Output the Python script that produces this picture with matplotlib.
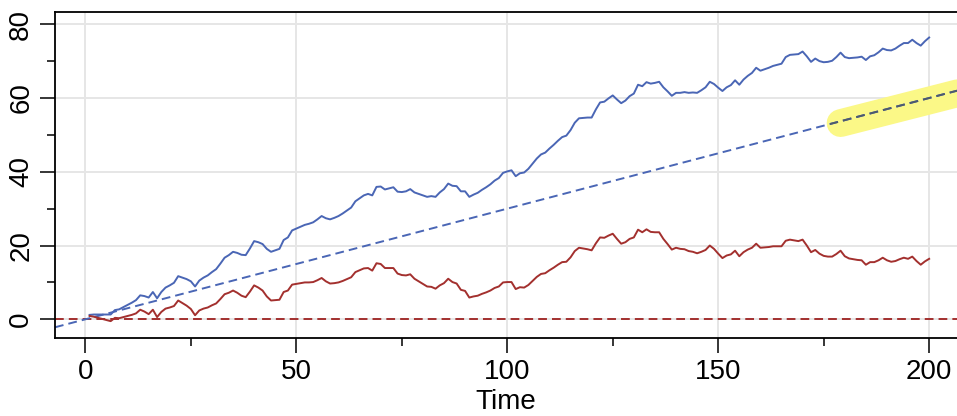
import matplotlib
matplotlib.use("Agg")
import matplotlib.pyplot as plt
from matplotlib.ticker import MultipleLocator
from matplotlib.patches import Rectangle

# ---------------- data ----------------
time = list(range(1, 201))

walk_no_drift = [
    0.9, 0.7, 0.4, 0.1, -0.2, -0.5, 0.4, 0.3, 0.6, 0.9,
    1.2, 1.6, 2.6, 2.1, 1.4, 2.6, 0.6, 2.0, 2.9, 3.2,
    3.6, 5.1, 4.4, 3.7, 2.8, 1.1, 2.4, 2.9, 3.2, 3.8,
    4.3, 5.5, 6.8, 7.2, 7.8, 7.2, 6.4, 6.0, 7.5, 9.2,
    8.6, 7.8, 6.2, 5.1, 5.2, 5.3, 7.4, 7.8, 9.4, 9.6,
    9.8, 10.0, 10.0, 10.1, 10.6, 11.2, 10.3, 9.7, 9.8, 10.0,
    10.4, 10.9, 11.4, 12.8, 13.3, 13.8, 13.9, 13.2, 15.2, 15.0,
    13.9, 13.9, 13.9, 12.4, 12.0, 11.9, 12.2, 11.0, 10.3, 9.6,
    8.9, 8.8, 8.3, 9.2, 9.8, 11.0, 10.1, 9.7, 8.0, 7.7,
    5.9, 6.2, 6.4, 6.9, 7.3, 7.8, 8.5, 8.9, 10.0, 10.1,
    10.1, 8.2, 8.7, 8.6, 9.3, 10.4, 11.5, 12.3, 12.5, 13.3,
    14.0, 14.8, 15.5, 15.6, 16.8, 18.5, 19.4, 19.2, 19.0, 18.7,
    20.6, 22.2, 22.1, 22.7, 23.2, 21.8, 20.5, 20.9, 21.8, 22.2,
    24.3, 23.6, 24.4, 23.7, 23.6, 23.6, 21.8, 20.4, 18.9, 19.4,
    19.1, 19.0, 18.5, 18.3, 17.9, 18.3, 18.8, 20.0, 19.1, 17.8,
    16.6, 17.3, 17.6, 18.6, 17.1, 18.2, 18.9, 19.4, 20.5, 19.4,
    19.5, 19.6, 19.8, 19.8, 19.8, 21.3, 21.6, 21.4, 21.2, 21.6,
    20.0, 18.2, 18.8, 17.8, 17.2, 17.0, 17.0, 17.7, 18.6, 17.1,
    16.5, 16.3, 16.1, 16.0, 14.8, 15.5, 15.5, 16.0, 16.7, 16.0,
    15.6, 15.8, 16.3, 16.7, 16.4, 17.0, 15.8, 14.8, 15.7, 16.4,
]

walk_with_drift = [
    1.2, 1.3, 1.3, 1.3, 1.3, 1.3, 2.5, 2.7, 3.3, 3.9,
    4.5, 5.2, 6.5, 6.3, 5.9, 7.4, 5.7, 7.4, 8.6, 9.2,
    9.9, 11.7, 11.3, 10.9, 10.3, 8.9, 10.5, 11.3, 11.9, 12.8,
    13.6, 15.1, 16.7, 17.4, 18.3, 18.0, 17.5, 17.4, 19.2, 21.2,
    20.9, 20.4, 19.1, 18.3, 18.7, 19.1, 21.5, 22.2, 24.1, 24.6,
    25.1, 25.6, 25.9, 26.3, 27.1, 28.0, 27.4, 27.1, 27.5, 28.0,
    28.7, 29.5, 30.3, 32.0, 32.8, 33.6, 34.0, 33.6, 35.9, 36.0,
    35.2, 35.5, 35.8, 34.6, 34.5, 34.7, 35.3, 34.4, 34.0, 33.6,
    33.2, 33.4, 33.2, 34.4, 35.3, 36.8, 36.2, 36.1, 34.7, 34.7,
    33.2, 33.8, 34.3, 35.1, 35.8, 36.6, 37.6, 38.3, 39.7, 40.1,
    40.4, 38.8, 39.6, 39.8, 40.8, 42.2, 43.6, 44.7, 45.2, 46.3,
    47.3, 48.4, 49.4, 49.8, 51.3, 53.3, 54.5, 54.6, 54.7, 54.7,
    56.9, 58.8, 59.0, 59.9, 60.7, 59.6, 58.6, 59.3, 60.5, 61.2,
    63.6, 63.2, 64.3, 63.9, 64.1, 64.4, 62.9, 61.8, 60.6, 61.4,
    61.4, 61.6, 61.4, 61.5, 61.4, 62.1, 62.9, 64.4, 63.8, 62.8,
    61.9, 62.9, 63.5, 64.8, 63.6, 65.0, 66.0, 66.8, 68.2, 67.4,
    67.8, 68.2, 68.7, 69.0, 69.3, 71.1, 71.7, 71.8, 71.9, 72.6,
    71.3, 69.8, 70.7, 70.0, 69.7, 69.8, 70.1, 71.1, 72.3, 71.1,
    70.8, 70.9, 71.0, 71.2, 70.3, 71.3, 71.6, 72.4, 73.4, 73.0,
    72.9, 73.4, 74.2, 74.9, 74.9, 75.8, 74.9, 74.2, 75.4, 76.4,
]

drift = 0.3
x_ticks = [0, 50, 100, 150, 200]
y_ticks = [0, 20, 40, 60, 80]
x_label = "Time"

# ---------------- style ----------------
plt.rcParams["font.family"] = ["Liberation Sans Narrow", "Liberation Sans", "DejaVu Sans"]
BLUE = "#4a66b5"
RED = "#a3302e"
GRID = "#e6e6e6"
HIGHLIGHT = "#fbf887"

fig = plt.figure(figsize=(9.57, 4.16), dpi=100)
ax = fig.add_axes([55 / 957, (416 - 338.3) / 416, 902 / 957, (338.3 - 11.7) / 416])

ax.set_xlim(-7.2, 206.6)
ax.set_ylim(-5.15, 83.4)

ax.set_xticks(x_ticks)
ax.set_yticks(y_ticks)
ax.xaxis.set_minor_locator(MultipleLocator(25))
ax.yaxis.set_minor_locator(MultipleLocator(10))
ax.grid(True, which="major", color=GRID, linewidth=1.4, zorder=0)
ax.set_axisbelow(True)

ax.tick_params(axis="both", which="major", length=11, width=1.1, labelsize=20,
               direction="out", colors="black", pad=4)
ax.tick_params(axis="both", which="minor", length=6, width=1.1, direction="out")
for lab in ax.get_yticklabels():
    lab.set_rotation(90)
    lab.set_va("center")
ax.set_xlabel(x_label, fontsize=20, labelpad=3)

for side in ("left", "top", "bottom"):
    ax.spines[side].set_linewidth(1.3)
ax.spines["right"].set_visible(False)

# highlight stroke (drawn under the trend line)
hl_t = (179.0, 214.0)
ax.plot(hl_t, (drift * hl_t[0] - 0.5, drift * hl_t[1] - 0.8), color=HIGHLIGHT,
        linewidth=20, solid_capstyle="round", zorder=1)

# reference lines
dash = (0, (4.5, 2.6))
ax.axhline(0, color=RED, linewidth=1.4, linestyle=dash, zorder=2)
ax.axline((0, 0), slope=drift, color=BLUE, linewidth=1.4, linestyle=dash, zorder=2)
dark = ax.axline((0, 0), slope=drift, color="#4e5a6c", linewidth=1.4, linestyle=dash, zorder=2.1)
dark.set_clip_path(Rectangle((176.5, 30), 40, 50, transform=ax.transData))

# series
ax.plot(time, walk_with_drift, color=BLUE, linewidth=1.4, zorder=3)
ax.plot(time, walk_no_drift, color=RED, linewidth=1.4, zorder=3)

fig.savefig("out.png", dpi=100)
